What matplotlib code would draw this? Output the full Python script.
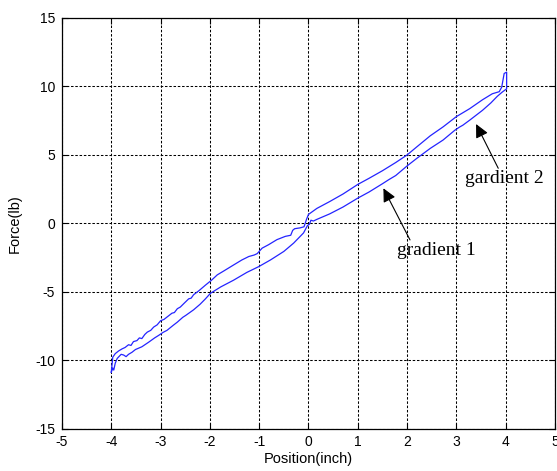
import matplotlib
matplotlib.use("Agg")
import matplotlib.pyplot as plt

# Loading branch (position increasing), position in inches and force in lb
lower_pos = [-4.0, -3.97, -3.95, -3.92, -3.88, -3.8, -3.75, -3.7, -3.65, -3.58,
             -3.51, -3.38, -3.24, -3.12, -3.04, -2.95, -2.87, -2.75, -2.66, -2.55,
             -2.49, -2.33, -2.2, -2.09, -1.99, -1.78, -1.52, -1.25, -1.01, -0.77,
             -0.5, -0.3, -0.1, -0.02, 0.02, 0.05, 0.1, 0.17, 0.43, 0.7,
             1.0, 1.23, 1.5, 1.63, 1.77, 2.0, 2.2, 2.47, 2.73, 2.97,
             3.07, 3.13, 3.27, 3.53, 3.7, 3.83, 3.93, 4.02]
lower_force = [-10.85, -10.55, -10.7, -10.2, -9.85, -9.55, -9.6, -9.72, -9.55, -9.4,
               -9.2, -9.0, -8.66, -8.35, -8.17, -7.95, -7.8, -7.45, -7.2, -6.85,
               -6.71, -6.3, -5.9, -5.5, -5.1, -4.63, -4.14, -3.57, -3.15, -2.66,
               -2.04, -1.43, -0.69, -0.15, -0.05, 0.24, 0.18, 0.3, 0.7, 1.2,
               1.85, 2.3, 2.9, 3.2, 3.5, 4.2, 4.76, 5.48, 6.09, 6.81,
               7.05, 7.17, 7.54, 8.26, 8.8, 9.28, 9.59, 9.83]

# Unloading branch (listed left to right, traversed right to left)
upper_pos = [-3.97, -3.92, -3.85, -3.78, -3.72, -3.65, -3.6, -3.55, -3.48, -3.43,
             -3.38, -3.32, -3.27, -3.2, -3.14, -3.07, -3.0, -2.93, -2.87, -2.77,
             -2.72, -2.66, -2.6, -2.53, -2.43, -2.38, -2.33, -2.22, -2.09, -1.97,
             -1.85, -1.72, -1.52, -1.35, -1.21, -1.1, -1.04, -0.94, -0.81, -0.64,
             -0.47, -0.36, -0.32, -0.28, -0.17, -0.09, -0.04, 0.0, 0.17, 0.43,
             0.7, 1.0, 1.23, 1.5, 1.77, 2.0, 2.2, 2.47, 2.73, 3.0,
             3.27, 3.53, 3.73, 3.87, 3.92, 3.97, 4.02]
upper_force = [-9.76, -9.5, -9.3, -9.15, -9.05, -8.85, -8.9, -8.62, -8.55, -8.35,
               -8.4, -8.1, -7.93, -7.8, -7.56, -7.4, -7.1, -7.0, -6.83, -6.55,
               -6.5, -6.22, -6.1, -5.85, -5.5, -5.45, -5.2, -4.9, -4.5, -4.15,
               -3.75, -3.47, -3.03, -2.66, -2.41, -2.3, -2.2, -1.8, -1.55, -1.18,
               -0.94, -0.86, -0.5, -0.38, -0.32, -0.24, 0.3, 0.66, 1.1, 1.6,
               2.15, 2.85, 3.3, 3.85, 4.45, 5.0, 5.6, 6.4, 7.05, 7.8,
               8.38, 9.03, 9.47, 9.62, 9.95, 10.95, 11.05]

x_ticks = [-5, -4, -3, -2, -1, 0, 1, 2, 3, 4, 5]
y_ticks = [-15, -10, -5, 0, 5, 10, 15]

# closed hysteresis loop
loop_x = lower_pos + upper_pos[::-1] + [lower_pos[0]]
loop_y = lower_force + upper_force[::-1] + [lower_force[0]]

fig = plt.figure(figsize=(5.57, 4.71), dpi=100)
ax = fig.add_axes([0.1113, 0.0892, 0.885, 0.8726])

ax.plot(loop_x, loop_y, color="#2424ff", lw=0.9)

ax.set_xlim(-5, 5)
ax.set_ylim(-15, 15)
ax.set_xticks(x_ticks)
ax.set_yticks(y_ticks)

tick_font = dict(family="Liberation Sans", size=10)
ax.set_xticklabels([str(t) for t in x_ticks], **tick_font)
ax.set_yticklabels([str(t) for t in y_ticks], **tick_font)
ax.tick_params(direction="in", length=4, width=0.8, top=True, right=True,
               color="black")
ax.tick_params(axis="x", pad=4.5)
ax.tick_params(axis="y", pad=5)

ax.grid(True, color="black", lw=0.75, linestyle=(0, (2.4, 1.7)))
for sp in ax.spines.values():
    sp.set_linewidth(0.9)
    sp.set_color("black")

ax.set_xlabel("Position(inch)", family="Liberation Sans", size=10.5)
ax.set_ylabel("Force(lb)", family="Liberation Sans", size=10.5)
ax.xaxis.set_label_coords(0.5, -0.055)
ax.yaxis.set_label_coords(-0.081, 0.5)

arrow = dict(arrowstyle="-|>,head_length=0.45,head_width=0.22",
             color="black", lw=0.8, mutation_scale=18, shrinkA=0, shrinkB=0)
ax.annotate("", xy=(1.52, 2.57), xytext=(2.06, -1.2), arrowprops=arrow)
ax.annotate("", xy=(3.40, 7.26), xytext=(3.85, 4.03), arrowprops=arrow)

serif = dict(family="Liberation Serif", size=14, ha="center", va="baseline")
ax.text(2.60, -2.3, "gradient 1", **serif)
ax.text(3.97, 2.93, "gardient 2", **serif)

fig.savefig("out.png", dpi=100)
